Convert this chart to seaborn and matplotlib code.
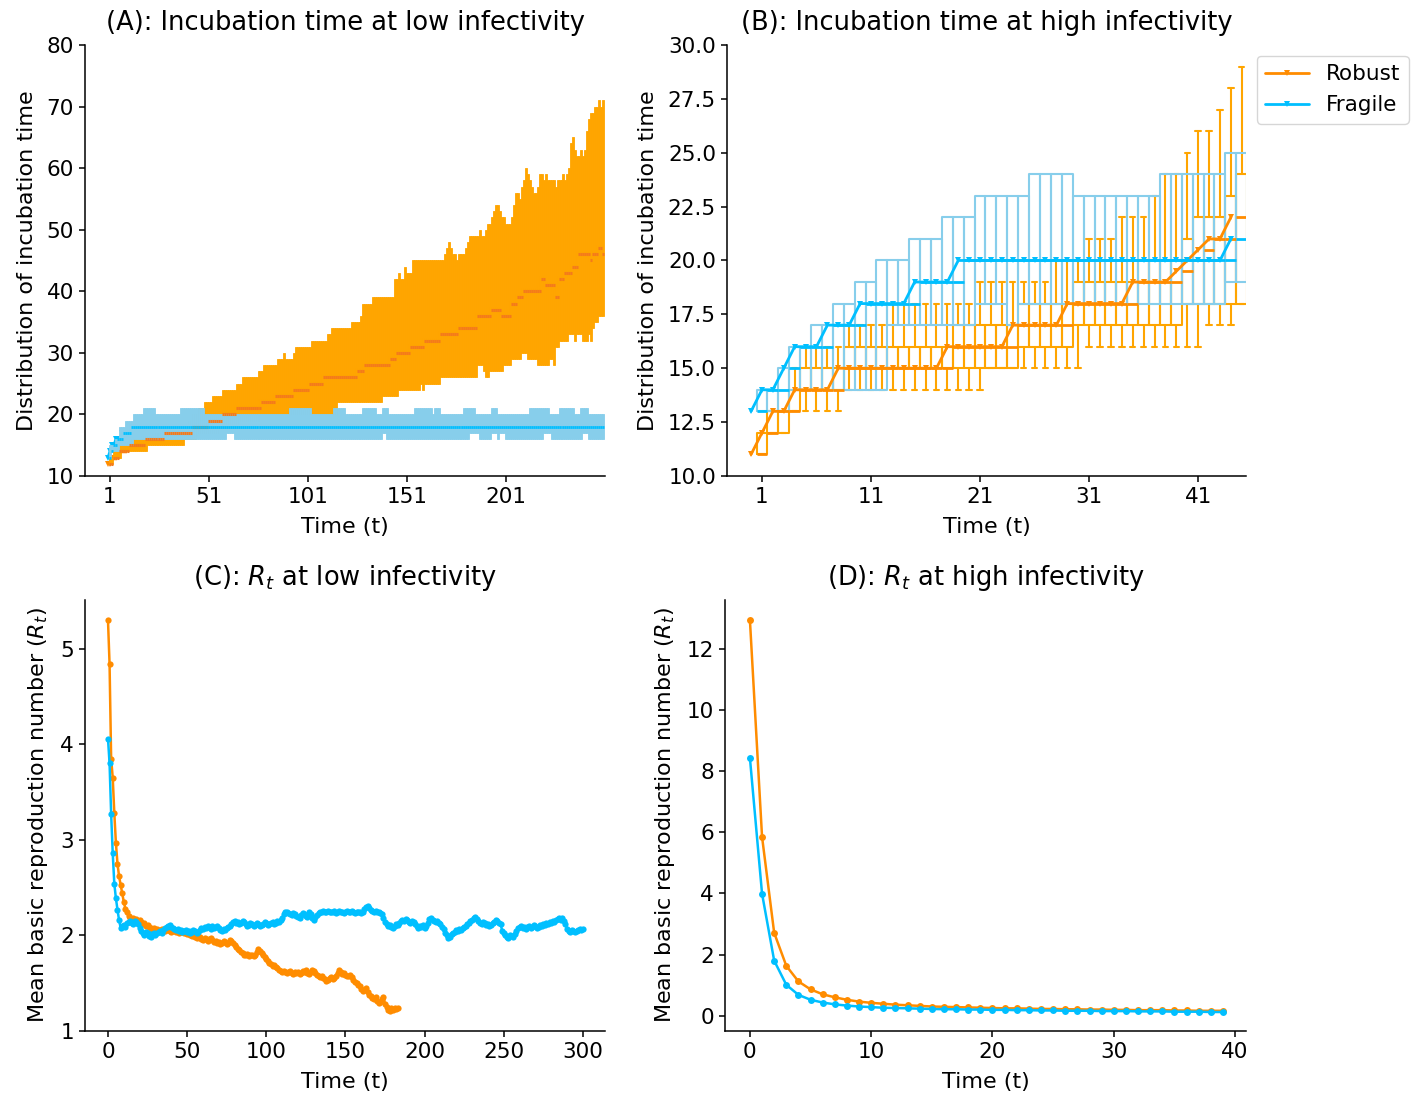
import numpy as np
import seaborn as sns
import matplotlib.pyplot as plt

# ---- (A) incubation time, low infectivity: one box per time step (t = 1..250)
robust_a_low = [
    12, 12, 13, 13, 13, 13, 14, 14, 14, 14,
    14, 14, 14, 14, 14, 14, 14, 14, 14, 15,
    15, 15, 15, 15, 15, 15, 15, 15, 15, 15,
    15, 15, 15, 15, 15, 15, 15, 15, 16, 16,
    16, 16, 16, 16, 17, 17, 17, 17, 17, 17,
    17, 17, 17, 17, 17, 18, 18, 18, 18, 18,
    18, 18, 18, 18, 18, 19, 19, 19, 19, 19,
    19, 19, 19, 19, 19, 19, 20, 20, 20, 20,
    20, 20, 20, 20, 20, 20, 20, 20, 20, 20,
    20, 20, 20, 20, 20, 20, 20, 20, 20, 20,
    20, 20, 20, 20, 20, 20, 20, 20, 20, 20,
    20, 20, 20, 20, 20, 22, 22, 22, 22, 22,
    22, 22, 22, 22, 22, 22, 22, 22, 22, 22,
    22, 22, 22, 22, 22, 22, 22, 22, 23, 23,
    23, 23, 23, 23, 23, 23, 24, 24, 24, 24,
    24, 24, 24, 24, 24, 24, 24, 25, 24, 25,
    25, 25, 25, 25, 25, 25, 25, 26, 26, 26,
    26, 26, 26, 26, 26, 26, 26, 26, 26, 26,
    26, 26, 26, 26, 26, 26, 28, 28, 28, 27,
    26, 26, 27, 27, 27, 27, 27, 27, 27, 28,
    28, 28, 28, 29, 29, 29, 29, 29, 30, 30,
    30, 29, 29, 29, 29, 29, 28, 28, 28, 28,
    28, 28, 29, 29, 28, 31, 31, 32, 32, 32,
    32, 32, 33, 33, 33, 32, 33, 33, 33, 32,
    32, 32, 33, 32, 34, 35, 35, 36, 36, 36,
]
robust_a_med = [
    12, 12, 13, 13, 13, 14, 14, 14, 14, 14,
    15, 15, 15, 15, 15, 15, 15, 15, 16, 16,
    16, 16, 16, 16, 16, 16, 16, 16, 17, 17,
    17, 17, 17, 17, 17, 17, 17, 17, 17, 17,
    17, 17, 18, 18, 18, 18, 18, 18, 18, 18,
    19, 19, 19, 19, 19, 19, 19, 20, 20, 20,
    20, 20, 20, 20, 21, 21, 21, 21, 21, 21,
    21, 21, 21, 21, 21, 21, 21, 22, 22, 22,
    22, 22, 22, 22, 23, 23, 23, 23, 23, 23,
    23, 23, 23, 24, 24, 24, 24, 24, 24, 24,
    24, 25, 25, 25, 25, 25, 25, 25, 26, 26,
    26, 26, 26, 26, 26, 26, 26, 26, 26, 26,
    26, 26, 26, 26, 26, 27, 27, 27, 27, 28,
    28, 28, 28, 28, 28, 28, 28, 28, 28, 28,
    28, 28, 29, 29, 29, 30, 30, 30, 30, 30,
    30, 30, 31, 31, 31, 31, 31, 31, 31, 32,
    32, 32, 32, 32, 32, 32, 32, 33, 33, 33,
    33, 33, 33, 33, 33, 33, 34, 34, 34, 34,
    34, 34, 34, 34, 34, 34, 36, 36, 36, 36,
    36, 36, 36, 37, 37, 37, 37, 37, 36, 36,
    36, 36, 36, 38, 38, 38, 39, 39, 39, 40,
    40, 40, 40, 40, 40, 40, 40, 40, 42, 42,
    41, 41, 41, 41, 41, 39, 39, 42, 42, 42,
    43, 43, 43, 43, 44, 44, 44, 46, 46, 46,
    46, 46, 46, 45, 46, 46, 46, 47, 47, 46,
]
robust_a_high = [
    13, 13, 14, 14, 14, 15, 15, 15, 15, 15,
    15, 16, 16, 16, 16, 16, 16, 16, 16, 16,
    16, 16, 16, 17, 17, 17, 17, 17, 17, 17,
    17, 17, 17, 17, 17, 17, 17, 17, 17, 18,
    19, 19, 20, 20, 20, 21, 21, 21, 22, 22,
    22, 22, 23, 23, 23, 23, 23, 24, 24, 24,
    24, 24, 24, 24, 25, 25, 25, 26, 26, 26,
    26, 26, 26, 26, 26, 27, 27, 27, 28, 28,
    28, 28, 28, 28, 28, 29, 29, 29, 30, 29,
    29, 29, 29, 30, 31, 31, 31, 31, 31, 31,
    31, 31, 32, 32, 32, 32, 32, 32, 32, 32,
    33, 33, 34, 34, 34, 34, 34, 34, 34, 34,
    34, 34, 35, 35, 35, 35, 35, 36, 38, 38,
    38, 38, 38, 39, 39, 39, 39, 39, 39, 39,
    39, 39, 39, 39, 42, 42, 43, 42, 42, 44,
    43, 43, 43, 45, 45, 45, 45, 45, 45, 45,
    45, 45, 45, 45, 45, 45, 45, 45, 45, 46,
    47, 48, 47, 46, 46, 45, 46, 46, 46, 46,
    47, 48, 49, 49, 49, 49, 49, 50, 49, 49,
    50, 51, 51, 52, 53, 54, 54, 53, 52, 52,
    51, 51, 51, 52, 54, 56, 56, 55, 57, 58,
    60, 59, 58, 57, 56, 56, 57, 59, 59, 58,
    59, 58, 58, 58, 58, 57, 58, 58, 58, 59,
    58, 59, 60, 64, 65, 63, 62, 62, 63, 62,
    63, 66, 68, 69, 69, 70, 70, 71, 70, 71,
]
# fragile group is almost flat, so it is kept as (value, run length) pairs
fragile_a_low_runs = [(13, 1), (14, 4), (15, 7), (16, 47), (17, 4), (16, 75), (17, 2),
                      (16, 42), (17, 5), (16, 6), (17, 3), (16, 1), (17, 3), (16, 19),
                      (17, 4), (16, 16), (17, 3), (16, 8)]
fragile_a_med_runs = [(13, 1), (14, 1), (15, 2), (16, 3), (17, 4), (18, 239)]
fragile_a_high_runs = [(15, 3), (16, 2), (18, 3), (19, 4), (20, 5), (21, 6), (20, 13),
                       (21, 12), (20, 43), (21, 11), (20, 11), (21, 6), (20, 9), (21, 7),
                       (20, 3), (21, 3), (20, 13), (21, 9), (20, 1), (21, 3), (20, 12),
                       (21, 6), (20, 8), (21, 3), (20, 16), (21, 10), (20, 5), (21, 8),
                       (20, 3), (21, 4), (20, 8)]

# ---- (B) incubation time, high infectivity (t = 1..45)
robust_b_low = [11, 12, 12, 13, 13, 13, 13, 13] + [14] * 13 + [15] * 9 + [16] * 11 + [17, 17, 17, 18]
robust_b_q1 = [11, 12, 12, 13, 14, 14, 14, 14] + [15] * 16 + [16] * 5 + [17] * 10 + [18] * 6
robust_b_med = [11, 12, 13, 13, 14, 14, 14, 14] + [15] * 10 + [16] * 6 + [17] * 5 + [18] * 6 \
    + [19] * 4 + [19.5, 20, 20.5, 21, 21, 22]
robust_b_q3 = [12, 13, 13, 14, 15, 15, 15, 15] + [16] * 10 + [17] * 6 + [18] * 5 + [19] * 6 \
    + [20] * 4 + [21, 22, 22, 22, 23, 24]
robust_b_high = [12, 13, 13, 15, 16, 16, 16, 16, 17, 17, 17, 17] + [18] * 8 + [19] * 7 \
    + [20] * 3 + [21] * 3 + [22] * 3 + [23, 24, 24, 25, 26, 26, 27, 28, 29]
fragile_b_q1 = [13, 13, 13] + [14] * 9 + [17] * 8 + [18, 18, 18, 17] + [18] * 19 + [19, 19]
fragile_b_med = [13, 14, 14, 15, 16, 16, 16, 17, 17, 17, 18, 18, 18, 18, 18, 19, 19, 19, 19] \
    + [20] * 25 + [21]
fragile_b_q3 = [14, 14, 15, 16, 16, 17, 17, 18, 18, 19, 19, 20, 20, 20, 21, 21, 21, 22, 22, 22] \
    + [23] * 5 + [24] * 4 + [23] * 8 + [24] * 6 + [25, 25]

# ---- (C) R_t at low infectivity
robust_c = [
    5.30, 4.84, 3.85, 3.65, 3.28, 2.97, 2.75, 2.62, 2.53, 2.44,
    2.35, 2.28, 2.24, 2.20, 2.18, 2.17, 2.18, 2.16, 2.17, 2.15,
    2.16, 2.14, 2.12, 2.13, 2.10, 2.11, 2.09, 2.08, 2.07, 2.08,
    2.06, 2.07, 2.05, 2.06, 2.07, 2.06, 2.05, 2.07, 2.06, 2.05,
    2.04, 2.05, 2.06, 2.04, 2.05, 2.03, 2.04, 2.05, 2.03, 2.02,
    2.01, 2.02, 2.00, 1.99, 2.01, 1.98, 1.97, 1.99, 1.98, 1.96,
    1.95, 1.97, 1.96, 1.94, 1.96, 1.97, 1.95, 1.93, 1.94, 1.92,
    1.93, 1.91, 1.92, 1.94, 1.93, 1.91, 1.92, 1.95, 1.94, 1.92,
    1.90, 1.88, 1.86, 1.85, 1.83, 1.82, 1.80, 1.79, 1.81, 1.78,
    1.79, 1.80, 1.78, 1.79, 1.83, 1.86, 1.84, 1.82, 1.79, 1.77,
    1.75, 1.73, 1.71, 1.70, 1.68, 1.69, 1.67, 1.66, 1.64, 1.63,
    1.62, 1.63, 1.62, 1.61, 1.62, 1.63, 1.61, 1.60, 1.62, 1.61,
    1.62, 1.60, 1.61, 1.63, 1.62, 1.64, 1.61, 1.60, 1.62, 1.64,
    1.63, 1.61, 1.59, 1.57, 1.56, 1.57, 1.55, 1.54, 1.52, 1.53,
    1.55, 1.56, 1.54, 1.55, 1.58, 1.61, 1.64, 1.62, 1.60, 1.61,
    1.59, 1.57, 1.58, 1.59, 1.56, 1.53, 1.51, 1.50, 1.48, 1.47,
    1.44, 1.42, 1.43, 1.45, 1.41, 1.38, 1.37, 1.35, 1.33, 1.36,
    1.31, 1.29, 1.30, 1.33, 1.36, 1.28, 1.25, 1.22, 1.21, 1.24,
    1.22, 1.24, 1.23, 1.24,
]
fragile_c = [
    4.06, 3.80, 3.27, 2.86, 2.54, 2.39, 2.27, 2.16, 2.08, 2.10,
    2.11, 2.09, 2.13, 2.14, 2.15, 2.13, 2.12, 2.15, 2.14, 2.12,
    2.08, 2.05, 2.03, 2.00, 2.04, 2.02, 1.99, 1.98, 2.01, 2.03,
    2.00, 2.02, 2.04, 2.05, 2.03, 2.06, 2.08, 2.09, 2.10, 2.11,
    2.09, 2.08, 2.07, 2.06, 2.07, 2.05, 2.06, 2.04, 2.05, 2.06,
    2.04, 2.05, 2.03, 2.04, 2.06, 2.05, 2.03, 2.04, 2.06, 2.08,
    2.07, 2.09, 2.08, 2.10, 2.09, 2.07, 2.10, 2.08, 2.09, 2.10,
    2.08, 2.06, 2.05, 2.07, 2.06, 2.08, 2.09, 2.10, 2.12, 2.14,
    2.15, 2.13, 2.14, 2.12, 2.13, 2.15, 2.14, 2.12, 2.10, 2.11,
    2.13, 2.12, 2.10, 2.11, 2.13, 2.12, 2.10, 2.11, 2.12, 2.14,
    2.13, 2.11, 2.12, 2.13, 2.14, 2.12, 2.13, 2.15, 2.14, 2.16,
    2.18, 2.22, 2.25, 2.24, 2.23, 2.22, 2.21, 2.23, 2.22, 2.20,
    2.19, 2.18, 2.21, 2.23, 2.22, 2.20, 2.19, 2.25, 2.22, 2.18,
    2.16, 2.19, 2.21, 2.23, 2.24, 2.25, 2.26, 2.25, 2.24, 2.26,
    2.25, 2.24, 2.25, 2.26, 2.23, 2.25, 2.26, 2.25, 2.24, 2.23,
    2.25, 2.26, 2.25, 2.24, 2.26, 2.25, 2.23, 2.24, 2.25, 2.24,
    2.23, 2.25, 2.28, 2.30, 2.31, 2.29, 2.27, 2.26, 2.25, 2.26,
    2.24, 2.25, 2.23, 2.22, 2.18, 2.14, 2.12, 2.10, 2.11, 2.09,
    2.08, 2.10, 2.12, 2.11, 2.13, 2.15, 2.16, 2.15, 2.17, 2.16,
    2.14, 2.13, 2.15, 2.14, 2.12, 2.10, 2.08, 2.10, 2.09, 2.11,
    2.08, 2.10, 2.13, 2.17, 2.18, 2.16, 2.15, 2.14, 2.15, 2.13,
    2.12, 2.09, 2.07, 2.03, 2.00, 1.97, 1.98, 2.01, 2.03, 2.04,
    2.06, 2.05, 2.07, 2.06, 2.08, 2.09, 2.10, 2.12, 2.13, 2.15,
    2.16, 2.18, 2.19, 2.17, 2.15, 2.13, 2.12, 2.14, 2.13, 2.11,
    2.12, 2.10, 2.11, 2.13, 2.14, 2.16, 2.15, 2.13, 2.12, 2.05,
    2.02, 2.00, 1.98, 1.97, 2.00, 1.99, 1.98, 2.01, 2.05, 2.08,
    2.09, 2.10, 2.08, 2.09, 2.07, 2.09, 2.10, 2.08, 2.09, 2.11,
    2.10, 2.08, 2.09, 2.11, 2.10, 2.12, 2.11, 2.13, 2.12, 2.14,
    2.13, 2.15, 2.14, 2.16, 2.17, 2.18, 2.16, 2.18, 2.15, 2.12,
    2.07, 2.05, 2.04, 2.06, 2.05, 2.04, 2.05, 2.06, 2.07, 2.06,
    2.07,
]

# ---- (D) R_t at high infectivity
robust_d = [12.94, 5.85, 2.71, 1.63, 1.12, 0.86, 0.70, 0.60, 0.52, 0.46,
            0.42, 0.39, 0.36, 0.34, 0.32, 0.30, 0.29, 0.28, 0.27, 0.26,
            0.25, 0.24, 0.24, 0.23, 0.22, 0.22, 0.21, 0.21, 0.20, 0.20,
            0.19, 0.19, 0.18, 0.18, 0.18, 0.17, 0.17, 0.16, 0.16, 0.16]
fragile_d = [8.43, 3.99, 1.80, 1.01, 0.68, 0.52, 0.43, 0.37, 0.33, 0.30,
             0.28, 0.26, 0.25, 0.24, 0.23, 0.22, 0.21, 0.21, 0.20, 0.20,
             0.19, 0.19, 0.18, 0.18, 0.17, 0.17, 0.16, 0.16, 0.16, 0.15,
             0.15, 0.15, 0.14, 0.14, 0.14, 0.13, 0.13, 0.13, 0.12, 0.12]

ORANGE_LINE = "darkorange"
BLUE_LINE = "deepskyblue"


def expand(runs):
    return [v for v, n in runs for _ in range(n)]


def box_stats(low, q1, med, q3, high):
    return [dict(whislo=a, q1=b, med=c, q3=d, whishi=e)
            for a, b, c, d, e in zip(low, q1, med, q3, high)]


fragile_a_low = expand(fragile_a_low_runs)
fragile_a_med = expand(fragile_a_med_runs)
fragile_a_high = expand(fragile_a_high_runs)

sns.set_style("ticks")
plt.rcParams.update({
    "font.family": ["DejaVu Sans"],
    "text.color": "black",
    "axes.labelcolor": "black",
    "axes.edgecolor": "black",
    "axes.linewidth": 1.1,
    "xtick.color": "black",
    "ytick.color": "black",
    "xtick.major.width": 1.1,
    "ytick.major.width": 1.1,
    "xtick.major.size": 4.5,
    "ytick.major.size": 4.5,
    "xtick.labelsize": 15.5,
    "ytick.labelsize": 15.5,
    "axes.labelsize": 16,
    "axes.labelpad": 7,
    "axes.titlesize": 18.5,
    "axes.titlepad": 11,
})

fig = plt.figure(figsize=(14.17, 10.97), dpi=100)
ax_a = fig.add_axes([0.0600, 0.5661, 0.3670, 0.3929])
ax_b = fig.add_axes([0.5131, 0.5661, 0.3663, 0.3929])
ax_c = fig.add_axes([0.0600, 0.0602, 0.3670, 0.3929])
ax_d = fig.add_axes([0.5116, 0.0602, 0.3677, 0.3929])

# (A) filled boxes, one per time step; median line sits underneath
n_a = len(robust_a_med)
pos_a = np.arange(1, n_a + 1)
sns.lineplot(x=np.arange(n_a), y=robust_a_med, color=ORANGE_LINE, marker="v", markersize=5,
             markeredgewidth=0, linewidth=2, zorder=1, ax=ax_a, legend=False)
sns.lineplot(x=np.arange(n_a), y=fragile_a_med, color=BLUE_LINE, marker="v", markersize=5,
             markeredgewidth=0, linewidth=2, zorder=1, ax=ax_a, legend=False)
ax_a.bxp(box_stats(robust_a_low, robust_a_low, robust_a_med, robust_a_high, robust_a_high),
         positions=pos_a, widths=1.0, patch_artist=True, showfliers=False, showcaps=False,
         boxprops=dict(facecolor="orange", edgecolor="orange", linewidth=0.6),
         whiskerprops=dict(color="orange"),
         medianprops=dict(color="#f47a1c", linewidth=2.2), manage_ticks=False)
ax_a.bxp(box_stats(fragile_a_low, fragile_a_low, fragile_a_med, fragile_a_high, fragile_a_high),
         positions=pos_a, widths=1.0, patch_artist=True, showfliers=False, showcaps=False,
         boxprops=dict(facecolor="skyblue", edgecolor="skyblue", linewidth=0.6),
         whiskerprops=dict(color="skyblue"),
         medianprops=dict(color=BLUE_LINE, linewidth=2), manage_ticks=False)
ax_a.set_xlim(-11.6, 251)
ax_a.set_ylim(10, 80)
ax_a.set_xticks([1, 51, 101, 151, 201])
ax_a.set_xticklabels(["1", "51", "101", "151", "201"])
ax_a.set_xlabel("Time (t)")
ax_a.set_ylabel("Distribution of incubation time")
ax_a.set_title("(A): Incubation time at low infectivity")

# (B) open boxes with the median trajectory on top
n_b = len(robust_b_med)
pos_b = np.arange(1, n_b + 1)
ax_b.bxp(box_stats(robust_b_low, robust_b_q1, robust_b_med, robust_b_q3, robust_b_high),
         positions=pos_b, widths=1.0, showfliers=False,
         boxprops=dict(color="orange", linewidth=1.5),
         whiskerprops=dict(color="orange", linewidth=1.5),
         capprops=dict(color="orange", linewidth=1.5),
         medianprops=dict(color=ORANGE_LINE, linewidth=2), manage_ticks=False)
ax_b.bxp(box_stats(fragile_b_q1, fragile_b_q1, fragile_b_med, fragile_b_q3, fragile_b_q3),
         positions=pos_b, widths=1.0, showfliers=False, showcaps=False,
         boxprops=dict(color="skyblue", linewidth=1.5),
         whiskerprops=dict(color="skyblue", linewidth=1.5),
         medianprops=dict(color=BLUE_LINE, linewidth=2), manage_ticks=False)
sns.lineplot(x=np.arange(n_b), y=robust_b_med, color=ORANGE_LINE, marker="v", markersize=5,
             markeredgewidth=0, linewidth=2, zorder=3, label="Robust", ax=ax_b)
sns.lineplot(x=np.arange(n_b), y=fragile_b_med, color=BLUE_LINE, marker="v", markersize=5,
             markeredgewidth=0, linewidth=2, zorder=3, label="Fragile", ax=ax_b)
ax_b.set_xlim(-2.2, 45.4)
ax_b.set_ylim(10, 30)
ax_b.set_yticks(np.arange(10, 30.1, 2.5))
ax_b.set_xticks([1, 11, 21, 31, 41])
ax_b.set_xticklabels(["1", "11", "21", "31", "41"])
ax_b.set_xlabel("Time (t)")
ax_b.set_ylabel("Distribution of incubation time")
ax_b.set_title("(B): Incubation time at high infectivity")
ax_b.legend(loc="upper left", bbox_to_anchor=(1.0, 1.0), fontsize=15.5, frameon=True)

# (C) and (D) mean R_t
sns.lineplot(x=np.arange(len(robust_c)), y=robust_c, color=ORANGE_LINE, marker="o",
             markersize=4.5, markeredgewidth=0, linewidth=1.8, ax=ax_c, legend=False)
sns.lineplot(x=np.arange(len(fragile_c)), y=fragile_c, color=BLUE_LINE, marker="o",
             markersize=4.5, markeredgewidth=0, linewidth=1.8, ax=ax_c, legend=False)
ax_c.set_xlim(-14.5, 314)
ax_c.set_ylim(1, 5.51)
ax_c.set_yticks([1, 2, 3, 4, 5])
ax_c.set_xticks([0, 50, 100, 150, 200, 250, 300])
ax_c.set_xlabel("Time (t)")
ax_c.set_ylabel("Mean basic reproduction number ($R_t$)")
ax_c.set_title("(C): $R_t$ at low infectivity")

sns.lineplot(x=np.arange(len(robust_d)), y=robust_d, color=ORANGE_LINE, marker="o",
             markersize=5, markeredgewidth=0, linewidth=1.8, ax=ax_d, legend=False)
sns.lineplot(x=np.arange(len(fragile_d)), y=fragile_d, color=BLUE_LINE, marker="o",
             markersize=5, markeredgewidth=0, linewidth=1.8, ax=ax_d, legend=False)
ax_d.set_xlim(-2.06, 40.9)
ax_d.set_ylim(-0.5, 13.6)
ax_d.set_yticks([0, 2, 4, 6, 8, 10, 12])
ax_d.set_xticks([0, 10, 20, 30, 40])
ax_d.set_xlabel("Time (t)")
ax_d.set_ylabel("Mean basic reproduction number ($R_t$)")
ax_d.set_title("(D): $R_t$ at high infectivity")

for ax in (ax_a, ax_b, ax_c, ax_d):
    sns.despine(ax=ax)

fig.savefig("out.png", dpi=100)
